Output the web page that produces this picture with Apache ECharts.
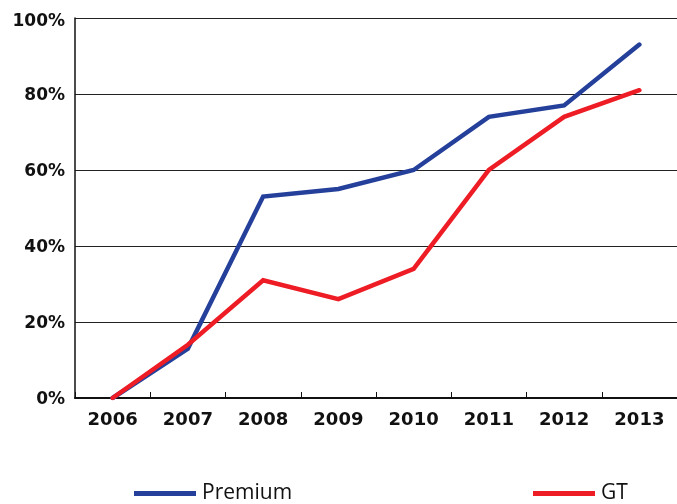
<!DOCTYPE html>
<html>
<head>
<meta charset="utf-8">
<script src="https://cdn.jsdelivr.net/npm/echarts@6/dist/echarts.min.js"></script>
<style>
  html, body { margin: 0; padding: 0; background: #fff; }
  #chart { width: 677px; height: 504px; }
</style>
</head>
<body>
<div id="chart"></div>
<script>
// Share of models per year (percent)
const years = ['2006', '2007', '2008', '2009', '2010', '2011', '2012', '2013'];
const premium = [0, 13, 53, 55, 60, 74, 77, 93];
const gt = [0, 14, 31, 26, 34, 60, 74, 81];
const yTicks = [0, 20, 40, 60, 80, 100];

const BLUE = '#25409a';
const RED = '#ee1d25';
const AXIS_FONT = '"DejaVu Sans", sans-serif';
const LEGEND_FONT = '"Open Sans", "DejaVu Sans", sans-serif';

const chart = echarts.init(document.getElementById('chart'));

function lineSeries(name, data, color) {
  return {
    name: name,
    type: 'line',
    data: data,
    symbol: 'none',
    lineStyle: { color: color, width: 4.5, cap: 'round', join: 'miter' },
    itemStyle: { color: color },
    animation: false
  };
}

function legendAt(name, left) {
  return {
    data: [name],
    left: left,
    top: 478,
    itemWidth: 62,
    itemHeight: 5,
    itemGap: 0,
    icon: 'rect',
    textStyle: { fontFamily: LEGEND_FONT, fontSize: 21, color: '#111', padding: [0, 0, 0, 1] }
  };
}

const topTick = yTicks[yTicks.length - 1];
const yLabelStyle = { fontFamily: AXIS_FONT, fontSize: 17, fontWeight: 'bold', color: '#111' };

chart.setOption({
  animation: false,
  grid: { left: 75, right: 0, top: 18, bottom: 106, containLabel: false },
  legend: [legendAt('Premium', 129), legendAt('GT', 528)],
  xAxis: {
    type: 'category',
    data: years,
    boundaryGap: true,
    axisLine: { lineStyle: { color: '#111', width: 2 } },
    axisTick: { show: true, inside: true, length: 6, alignWithLabel: false, lineStyle: { color: '#111', width: 1 } },
    axisLabel: { color: '#111', fontFamily: AXIS_FONT, fontSize: 18, fontWeight: 'bold', margin: 13 }
  },
  yAxis: {
    type: 'value',
    min: yTicks[0],
    max: topTick,
    interval: 20,
    axisLine: { show: true, lineStyle: { color: '#111', width: 1.5 } },
    axisTick: { show: false },
    splitLine: { show: true, lineStyle: { color: '#222', width: 1 } },
    axisLabel: {
      color: '#111', fontFamily: AXIS_FONT, fontSize: 17, fontWeight: 'bold', margin: 10,
      formatter: v => (v === topTick ? '{top|' : '{std|') + v + '%}',
      rich: {
        top: Object.assign({ padding: [8, 0, 0, 0] }, yLabelStyle),
        std: Object.assign({ padding: [3, 0, 0, 0] }, yLabelStyle)
      }
    }
  },
  series: [
    lineSeries('Premium', premium, BLUE),
    lineSeries('GT', gt, RED)
  ]
});
</script>
</body>
</html>
